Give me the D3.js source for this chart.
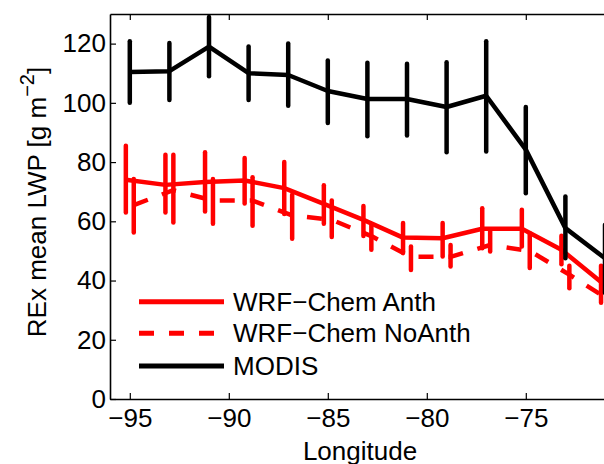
<!DOCTYPE html>
<html>
<head>
<meta charset="utf-8">
<script src="https://cdnjs.cloudflare.com/ajax/libs/d3/7.8.5/d3.min.js"></script>
<style>
    body { margin: 0; background: #fff; }
    text { font-family: "Liberation Sans", Arial, sans-serif; fill: #000; }
</style>
</head>
<body>
<div id="chartDiv"></div>
<script>

// longitudes of the bins (deg)
var longitudes = [-95, -93, -91, -89, -87, -85, -83, -81, -79, -77, -75, -73, -71];

// MODIS mean LWP and error bar ends
var modisMean = [110.4, 110.7, 119, 110, 109.4, 104, 101.3, 101.3, 98.6, 102.4, 84.2, 57.7, 47.5];
var modisLow  = [100, 101, 109, 101, 99, 93.2, 88.7, 89, 83.3, 83.6, 69.5, 47.5, 35.8];
var modisHigh = [120.8, 120.2, 129, 119, 120, 114.3, 113.5, 113.2, 113.7, 120.8, 98.6, 68.4, 58.8];

// WRF-Chem Anth
var anthMean = [74, 72.3, 73.3, 73.8, 71.2, 65.9, 60.5, 54.5, 54.3, 57.5, 57.5, 50.4, 39.5];
var anthLow  = [63, 63, 63.3, 66, 62.5, 59.2, 55, 49.3, 48.1, 50.9, 51.5, 45.5, 32.5];
var anthHigh = [85.5, 82.5, 83.3, 81.4, 80, 72.2, 65.2, 59.4, 59.4, 64.4, 63.9, 55.1, 45];

// WRF-Chem NoAnth
var noAnthMean = [65.5, 70.5, 67, 67, 62, 60.5, 55, 48, 48, 52, 50, 42, 33.5];
var noAnthLow  = [56.2, 59.6, 59.2, 58.5, 54.1, 54.7, 50.4, 43.6, 44.7, 49.8, 44.2, 37.4, 29];
var noAnthHigh = [74.3, 82.5, 74.3, 74.9, 69, 67, 58.8, 51.5, 52, 56.6, 56, 45, 38];

var xTicks = [-95, -90, -85, -80, -75];
var yTicks = [0, 20, 40, 60, 80, 100, 120];

var legendNames = ["WRF\u2212Chem Anth", "WRF\u2212Chem NoAnth", "MODIS"];

var series = [
    { name: legendNames[0], mean: anthMean, low: anthLow, high: anthHigh, shift: -0.2, color: "#ff0000", dash: null },
    { name: legendNames[1], mean: noAnthMean, low: noAnthLow, high: noAnthHigh, shift: 0.2, color: "#ff0000", dash: "15,15" },
    { name: legendNames[2], mean: modisMean, low: modisLow, high: modisHigh, shift: 0, color: "#000000", dash: null }
];

var width = 604,
    height = 464;

var plotLeft = 110,
    plotTop = 14,
    plotBottom = 399,
    plotRight = 110 + 26 * 19.8;

var x = d3.scaleLinear()
    .domain([-96, -70])
    .range([plotLeft, plotRight]);

var y = d3.scaleLinear()
    .domain([0, 130])
    .range([plotBottom, plotTop]);

var svg = d3.select("#chartDiv").append("svg")
    .attr("width", width)
    .attr("height", height);

svg.append("defs").append("clipPath")
    .attr("id", "plotClip")
    .append("rect")
    .attr("x", plotLeft)
    .attr("y", plotTop)
    .attr("width", plotRight - plotLeft)
    .attr("height", plotBottom - plotTop);

var plot = svg.append("g")
    .attr("clip-path", "url(#plotClip)");

var line = d3.line()
    .x(function (d) { return x(d.lon); })
    .y(function (d) { return y(d.v); });

series.forEach(function (s) {

    var pts = longitudes.map(function (lon, i) {
        return { lon: lon + s.shift, v: s.mean[i], lo: s.low[i], hi: s.high[i] };
    });

    var g = plot.append("g");

    g.selectAll(".ebar")
        .data(pts)
        .enter().append("line")
        .attr("class", "ebar")
        .attr("x1", function (d) { return x(d.lon); })
        .attr("x2", function (d) { return x(d.lon); })
        .attr("y1", function (d) { return y(d.lo); })
        .attr("y2", function (d) { return y(d.hi); })
        .attr("stroke", s.color)
        .attr("stroke-width", 4.5)
        .attr("stroke-linecap", "round");

    g.append("path")
        .datum(pts)
        .attr("d", line)
        .attr("fill", "none")
        .attr("stroke", s.color)
        .attr("stroke-width", 4.5)
        .attr("stroke-linejoin", "round")
        .attr("stroke-dasharray", s.dash);
});

// axes
var xAxisBottom = d3.axisBottom(x).tickValues(xTicks).tickSizeInner(-6).tickSizeOuter(0).tickPadding(10);
var xAxisTop = d3.axisTop(x).tickValues(xTicks).tickSizeInner(-6).tickSizeOuter(0).tickFormat("");
var yAxis = d3.axisLeft(y).tickValues(yTicks).tickSizeInner(-6).tickSizeOuter(0).tickPadding(4);

svg.append("g")
    .attr("transform", "translate(0," + plotBottom + ")")
    .call(xAxisBottom);

svg.append("g")
    .attr("transform", "translate(0," + plotTop + ")")
    .call(xAxisTop);

svg.append("g")
    .attr("transform", "translate(" + plotLeft + ",0)")
    .call(yAxis);

svg.selectAll(".domain")
    .attr("stroke", "#000")
    .attr("stroke-width", 1.6);

svg.selectAll(".tick line")
    .attr("stroke", "#000")
    .attr("stroke-width", 1.2);

svg.selectAll(".tick text")
    .style("font-size", "26px")
    .style("font-family", "'Liberation Sans', Arial, sans-serif")
    .attr("fill", "#000");

// axis labels
svg.append("text")
    .attr("x", 360)
    .attr("y", 460)
    .attr("text-anchor", "middle")
    .style("font-size", "26px")
    .text("Longitude");

var yLab = svg.append("text")
    .attr("transform", "translate(46,202) rotate(-90)")
    .attr("text-anchor", "middle")
    .style("font-size", "26px");

yLab.append("tspan").text("REx mean LWP [g m");
yLab.append("tspan").attr("dy", -12).style("font-size", "20px").text("\u22122");
yLab.append("tspan").attr("dy", 12).text("]");

// legend
var legend = svg.append("g");

var legendRows = [301.7, 333.3, 366];

series.forEach(function (s, i) {

    legend.append("line")
        .attr("x1", 139)
        .attr("x2", 224)
        .attr("y1", legendRows[i])
        .attr("y2", legendRows[i])
        .attr("stroke", s.color)
        .attr("stroke-width", 5)
        .attr("stroke-dasharray", s.dash);

    legend.append("text")
        .attr("x", 233)
        .attr("y", legendRows[i] + 9)
        .style("font-size", "26px")
        .text(s.name);
});

</script>
</body>
</html>
